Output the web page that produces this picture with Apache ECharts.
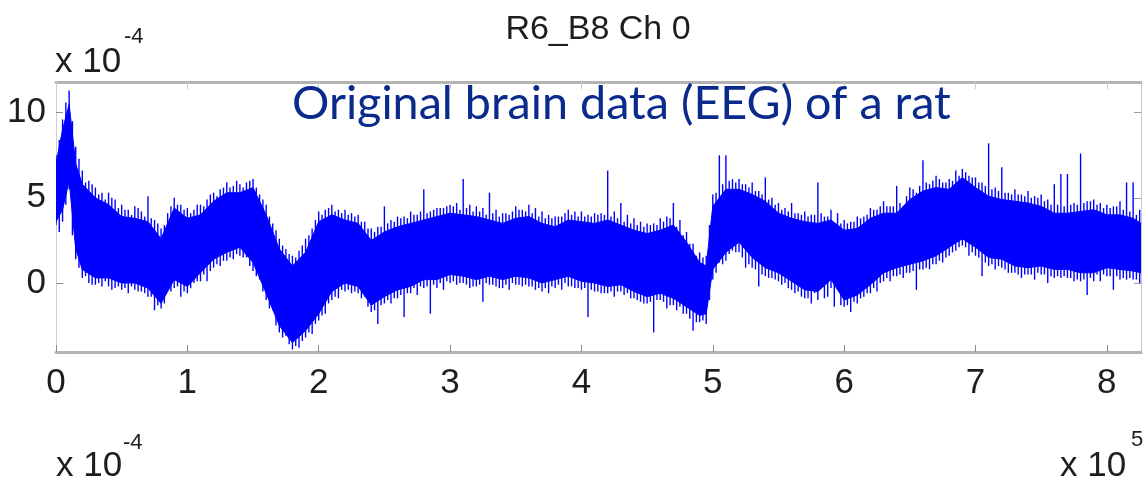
<!DOCTYPE html>
<html><head><meta charset="utf-8">
<script src="https://cdn.jsdelivr.net/npm/echarts@6/dist/echarts.min.js"></script>
<style>html,body{margin:0;padding:0;background:#fff}#c{width:1145px;height:484px}</style>
</head><body><div id="c"></div>
<script>
// x in units of 10^5 samples, y in units of 10^-4
const xTickLabels = [0, 1, 2, 3, 4, 5, 6, 7, 8];
const yTickLabels = [0, 5, 10];

// dense core of the signal (upper / lower edge of the solid blue band)
const bandX  = [0.00,0.05,0.10,0.15,0.20,0.30,0.40,0.50,0.60,0.70,0.80,0.90,1.00,1.10,1.20,1.30,1.40,1.50,1.60,1.70,1.80,1.90,2.00,2.10,2.20,2.30,2.40,2.50,2.60,2.70,2.80,2.90,3.00,3.10,3.20,3.30,3.40,3.50,3.60,3.70,3.80,3.90,4.00,4.10,4.20,4.30,4.40,4.50,4.60,4.70,4.80,4.90,4.95,5.00,5.10,5.20,5.30,5.40,5.50,5.60,5.70,5.80,5.90,6.00,6.10,6.20,6.30,6.40,6.50,6.60,6.70,6.80,6.90,7.00,7.10,7.20,7.30,7.40,7.50,7.60,7.70,7.80,7.90,8.00,8.10,8.20,8.26];
const bandHi = [7.0,9.0,10.5,7.0,5.8,5.0,4.6,3.9,3.8,3.6,2.6,4.4,3.8,4.0,4.8,5.3,5.3,5.6,4.0,2.0,1.0,1.8,3.6,4.0,3.7,3.5,2.5,3.0,3.3,3.5,3.7,3.9,4.1,4.0,3.9,3.7,3.5,3.8,3.9,3.5,3.3,3.7,3.6,3.5,3.7,3.4,3.1,2.9,3.1,3.4,2.4,1.2,1.0,4.5,5.5,5.5,5.2,4.8,4.1,3.8,3.6,3.5,3.7,3.1,3.2,3.8,4.1,4.1,4.9,5.4,5.6,5.5,6.2,5.6,5.1,4.9,4.8,4.7,4.5,4.1,4.1,4.2,4.3,4.0,4.0,3.8,3.5];
const bandLo = [3.6,4.3,6.0,2.0,0.8,0.3,0.3,0.0,0.0,-0.3,-1.2,0.2,-0.2,0.6,1.4,1.8,2.1,1.2,-0.6,-2.5,-3.5,-2.8,-1.8,-0.5,0.0,-0.2,-1.3,-0.8,-0.4,-0.2,0.2,0.2,0.5,0.4,0.2,0.4,0.2,0.4,0.3,0.0,0.2,0.4,0.1,0.0,-0.2,-0.1,-0.5,-0.8,-0.6,-0.9,-1.4,-1.9,-1.8,0.8,1.8,2.4,1.5,0.9,0.6,0.1,-0.4,-0.5,0.2,-1.0,-0.7,-0.1,0.6,0.9,1.1,1.3,1.6,2.1,2.6,2.1,1.5,1.4,1.0,0.9,1.0,0.8,0.8,0.6,0.6,0.9,0.8,0.7,0.6];

// fast swings of the trace, set A: one stroke every 0.05 x 10^5 samples (x = 0.00 ... 8.25)
const strokeTop = [
  7.5,9.6,11.3,8.0,6.6,6.0,5.6,5.3,5.3,4.9,
  4.6,4.3,4.5,4.2,5.1,3.7,3.2,4.1,5.0,4.6,
  4.4,4.3,4.6,4.9,5.3,5.5,5.9,5.7,5.8,5.9,
  6.1,5.2,4.6,3.5,2.6,2.0,1.6,1.9,2.6,3.2,
  4.2,4.3,4.6,4.3,4.3,4.1,4.0,3.6,3.2,3.3,
  4.5,3.7,3.9,3.9,4.2,4.0,5.5,4.2,4.4,4.4,
  4.6,4.7,6.1,4.6,4.5,4.4,5.3,4.3,4.1,4.0,
  4.5,4.3,4.6,4.4,4.2,4.0,3.9,3.9,4.3,4.2,
  4.2,4.0,4.1,4.1,6.6,4.2,4.7,4.0,3.8,3.6,
  3.5,3.5,3.8,3.9,4.7,3.7,3.0,2.3,1.8,1.6,
  5.2,7.5,7.5,6.1,6.1,5.8,5.9,5.4,6.2,5.0,
  4.7,4.4,4.7,4.1,4.2,4.0,5.9,3.9,4.3,4.1,
  3.7,3.6,3.9,3.9,4.4,4.3,4.8,4.5,5.7,4.5,
  5.6,5.3,7.2,5.8,6.3,5.9,6.1,6.6,6.7,6.3,
  6.2,5.9,8.2,5.6,6.8,5.3,5.5,5.2,5.4,5.1,
  5.2,4.9,5.8,6.4,6.4,4.7,7.6,4.8,4.9,4.7,
  4.6,4.5,4.8,5.9,5.9,4.3];
const strokeBot = [
  3.4,3.6,5.5,1.4,0.3,0.0,-0.1,-0.2,-0.2,-0.3,
  -0.4,-0.6,-0.4,-0.5,-0.8,-1.6,-1.5,-0.4,-0.3,-0.8,
  -0.6,0.0,0.1,0.1,0.9,1.0,1.3,1.4,1.6,1.5,
  0.7,0.2,-1.0,-1.6,-2.9,-3.1,-3.9,-3.8,-3.2,-3.0,
  -2.2,-1.8,-1.0,-0.9,-0.5,-0.6,-0.6,-0.8,-1.7,-2.4,
  -1.2,-1.2,-0.9,-2.0,-0.6,-0.7,-0.3,-1.8,-0.3,-0.4,
  0.0,-0.1,0.0,-0.3,-0.2,-1.1,-0.1,-0.2,-0.3,-0.4,
  -0.1,-0.2,-0.2,-0.4,-0.5,-0.6,-0.3,-0.4,-0.2,-0.3,
  -0.4,-2.0,-0.5,-0.6,-0.6,-0.8,-0.5,-0.6,-0.9,-1.1,
  -1.2,-2.9,-1.0,-1.5,-1.3,-1.4,-1.8,-2.8,-2.3,-2.4,
  0.2,1.2,1.3,1.9,1.8,0.9,0.9,-0.2,0.4,0.3,
  0.1,0.0,-0.4,-0.5,-0.9,-1.2,-1.0,-0.9,-0.3,-0.4,
  -1.4,-1.7,-1.2,-0.8,-0.6,-0.5,0.1,0.1,0.4,0.3,
  0.6,-0.4,0.8,0.8,1.1,1.2,1.6,1.9,2.2,1.6,
  1.6,0.4,1.0,0.8,0.9,0.6,0.6,0.3,0.5,0.2,
  0.5,0.0,0.3,0.3,0.3,0.1,0.1,-0.7,0.1,0.1,
  0.4,-0.4,0.2,0.2,0.2,0.0];

// fast swings, set B: strokes in between, x = 0.025 ... 8.225
const strokeTop2 = [
  8.4,10.6,9.5,7.3,5.9,5.8,5.2,4.9,5.0,4.4,
  4.3,4.0,4.4,3.9,3.8,3.5,3.4,4.5,4.6,4.3,
  4.1,4.6,4.5,5.2,5.1,5.6,5.6,6.0,5.6,6.0,
  5.6,4.9,3.9,3.1,2.2,1.7,1.5,2.2,2.8,3.7,
  4.0,4.4,4.2,4.1,4.0,3.9,3.6,3.2,3.0,3.3,
  3.5,3.6,3.8,3.8,4.0,4.2,4.1,4.3,4.4,4.5,
  4.5,4.3,4.4,4.2,4.2,4.0,4.1,3.9,4.1,4.2,
  4.3,4.2,4.1,3.9,3.8,3.8,3.9,4.1,4.0,3.9,
  3.9,3.9,4.0,4.0,3.9,3.8,3.6,3.5,3.4,3.3,
  3.4,3.4,3.6,3.8,3.3,2.8,2.3,1.6,1.5,3.4,
  5.3,5.8,6.0,5.9,5.8,5.6,5.4,5.2,4.9,4.6,
  4.3,4.2,4.1,4.0,3.9,4.0,4.1,3.9,3.5,3.5,
  3.5,3.6,3.8,4.0,4.3,4.5,4.5,4.5,4.7,5.1,
  5.5,5.7,5.9,6.0,6.1,5.9,6.0,6.3,6.5,6.2,
  5.9,5.7,5.5,5.4,5.3,5.2,5.2,5.1,5.0,5.0,
  4.8,4.6,4.6,4.5,4.6,4.6,4.7,4.8,4.6,4.4,
  4.4,4.5,4.3,4.2,4.0];
const strokeBot2 = [
  3.0,4.6,2.8,0.9,0.4,-0.1,0.0,0.1,-0.4,-0.2,
  -0.3,-0.2,-0.5,-0.6,-0.8,-1.3,-1.2,-0.5,-0.2,-0.5,
  -0.3,0.1,0.5,0.7,1.1,1.3,1.5,1.7,1.5,1.0,
  0.4,-0.5,-1.5,-2.5,-3.2,-3.6,-3.7,-3.4,-2.9,-2.4,
  -1.9,-1.2,-0.8,-0.4,-0.4,-0.5,-0.9,-1.4,-1.6,-1.3,
  -1.0,-0.9,-0.7,-0.6,-0.3,-0.2,-0.2,-0.1,0.0,0.1,
  0.1,0.0,-0.1,-0.2,-0.1,0.0,-0.1,-0.3,-0.1,0.0,
  -0.1,-0.1,-0.2,-0.3,-0.3,-0.2,-0.1,0.0,-0.2,-0.3,
  -0.3,-0.4,-0.5,-0.6,-0.5,-0.5,-0.7,-0.9,-1.0,-1.2,
  -1.1,-1.0,-1.1,-1.3,-1.6,-1.8,-2.1,-2.3,-2.2,-1.0,
  0.6,1.1,1.7,1.8,1.5,1.1,0.8,0.5,0.3,0.2,
  -0.1,-0.3,-0.6,-0.8,-0.9,-0.6,-0.2,-0.8,-1.4,-1.3,
  -1.3,-1.1,-0.9,-0.6,-0.3,0.0,0.3,0.4,0.5,0.6,
  0.7,0.8,0.9,1.1,1.3,1.5,1.8,2.1,2.1,1.8,
  1.5,1.2,1.1,1.0,0.8,0.6,0.5,0.5,0.5,0.6,
  0.5,0.4,0.4,0.4,0.3,0.2,0.2,0.3,0.5,0.5,
  0.4,0.4,0.3,0.3,0.2];

const bandData = bandX.map((x, i) => [x, bandLo[i], bandHi[i]]);
const strokeData = strokeTop.map((t, j) => [+(j * 0.05).toFixed(3), strokeBot[j], t])
  .concat(strokeTop2.map((t, j) => [+(j * 0.05 + 0.025).toFixed(3), strokeBot2[j], t]));

const BLUE = '#0000ff';
const AX = '#1e1e1e';
const TICKFONT = "'Liberation Sans', Arial, sans-serif";
const FRAME = '#b4b4b4';

const chart = echarts.init(document.getElementById('c'), null, {renderer: 'canvas'});
chart.setOption({
  animation: false,
  backgroundColor: '#fff',
  grid: {left: 56, top: 82, right: 4, bottom: 132, containLabel: false},
  xAxis: [{
    type: 'value', min: 0, max: 8.26, position: 'bottom',
    axisLine: {show: true, onZero: false, lineStyle: {color: FRAME, width: 3}},
    axisTick: {show: true, inside: true, length: 7, lineStyle: {color: '#8c8c8c', width: 1}, customValues: xTickLabels},
    axisLabel: {show: true, color: AX, fontSize: 35, fontFamily: TICKFONT, margin: 14, customValues: xTickLabels},
    splitLine: {show: false}
  }, {
    type: 'value', min: 0, max: 8.26, position: 'top',
    axisLine: {show: true, onZero: false, lineStyle: {color: FRAME, width: 3}},
    axisTick: {show: true, inside: true, length: 7, lineStyle: {color: '#c8c8c8', width: 1}, customValues: xTickLabels},
    axisLabel: {show: false},
    splitLine: {show: false}
  }],
  yAxis: [{
    type: 'value', min: -4.05, max: 11.8, position: 'left',
    axisLine: {show: true, onZero: false, lineStyle: {color: '#d0d0d0', width: 1}},
    axisTick: {show: true, inside: true, length: 7, lineStyle: {color: '#8c8c8c', width: 1}, customValues: yTickLabels},
    axisLabel: {show: true, color: AX, fontSize: 35, fontFamily: TICKFONT, margin: 10, customValues: yTickLabels},
    splitLine: {show: false}
  }, {
    type: 'value', min: -4.05, max: 11.8, position: 'right',
    axisLine: {show: true, onZero: false, lineStyle: {color: '#c8c8c8', width: 1}},
    axisTick: {show: true, inside: true, length: 7, lineStyle: {color: '#a0a0a0', width: 1}, customValues: yTickLabels},
    axisLabel: {show: false},
    splitLine: {show: false}
  }],
  series: [{
    type: 'custom', name: 'core', data: bandData, silent: true, clip: true, z: 2,
    renderItem: function (params, api) {
      if (params.dataIndex !== 0) return null;
      const pts = [];
      for (let i = 0; i < bandData.length; i++) pts.push(api.coord([bandData[i][0], bandData[i][2]]));
      for (let i = bandData.length - 1; i >= 0; i--) pts.push(api.coord([bandData[i][0], bandData[i][1]]));
      return {type: 'polygon', shape: {points: pts}, style: {fill: BLUE, stroke: BLUE, lineWidth: 1}};
    }
  }, {
    type: 'custom', name: 'EEG', data: strokeData, silent: true, clip: true, z: 3,
    renderItem: function (params, api) {
      const a = api.coord([api.value(0), api.value(1)]);
      const b = api.coord([api.value(0), api.value(2)]);
      return {type: 'line', shape: {x1: a[0], y1: a[1], x2: b[0], y2: b[1]}, style: {stroke: BLUE, lineWidth: 1.4}};
    }
  }],
  graphic: [
    {type: 'text', style: {text: 'R6_B8 Ch 0', x: 598, y: 30, textAlign: 'center', textVerticalAlign: 'middle', font: "34px 'Liberation Sans', Arial, sans-serif", fill: '#1e1e1e'}},
    {type: 'text', style: {text: 'Original brain data (EEG) of a rat', x: 292, y: 104, textAlign: 'left', textVerticalAlign: 'middle', font: "46.7px Lato, 'Open Sans', sans-serif", fill: '#0a2a8c'}, z: 10},
    {type: 'text', style: {text: 'x 10', x: 55, y: 62, textAlign: 'left', textVerticalAlign: 'middle', font: "35px " + TICKFONT, fill: AX}},
    {type: 'text', style: {text: '-4', x: 124, y: 37, textAlign: 'left', textVerticalAlign: 'middle', font: "22px " + TICKFONT, fill: AX}},
    {type: 'text', style: {text: 'x 10', x: 56, y: 466, textAlign: 'left', textVerticalAlign: 'middle', font: "35px " + TICKFONT, fill: AX}},
    {type: 'text', style: {text: '-4', x: 123, y: 443, textAlign: 'left', textVerticalAlign: 'middle', font: "22px " + TICKFONT, fill: AX}},
    {type: 'text', style: {text: 'x 10', x: 1060, y: 466, textAlign: 'left', textVerticalAlign: 'middle', font: "35px " + TICKFONT, fill: AX}},
    {type: 'text', style: {text: '5', x: 1131, y: 440, textAlign: 'left', textVerticalAlign: 'middle', font: "22px " + TICKFONT, fill: AX}}
  ]
});
</script>
</body></html>
